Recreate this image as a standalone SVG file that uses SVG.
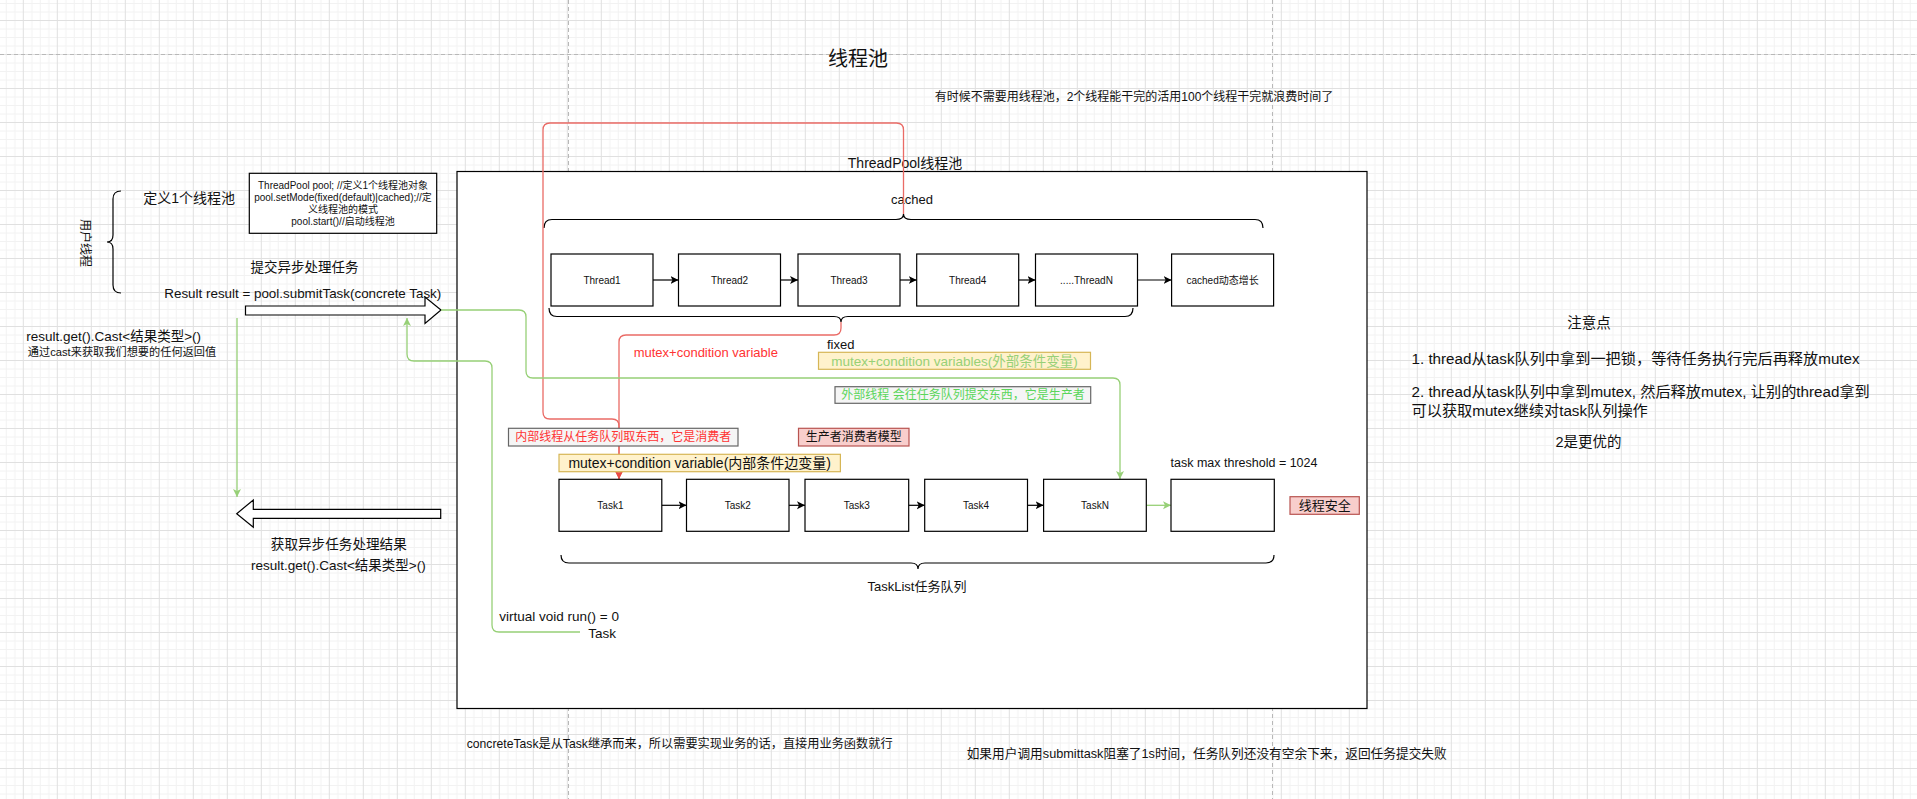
<svg xmlns="http://www.w3.org/2000/svg" width="1917" height="799" viewBox="0 0 1917 799">
<style>
text{font-family:"Liberation Sans","Noto Sans CJK SC",sans-serif;fill:#111;}
.box{fill:#fff;stroke:#000;stroke-width:1.2;}
.c{text-anchor:middle;}
.s10{font-size:10px;}
.blk{fill:none;stroke:#000;stroke-width:1.2;}
.red{fill:none;stroke:#EA6B66;stroke-width:1.3;}
.grn{fill:none;stroke:#97D077;stroke-width:1.3;}
.brace{fill:none;stroke:#000;stroke-width:1.2;}
.yel{fill:#fff2cc;stroke:#d6b656;stroke-width:1.2;}
.gry{fill:#f5f5f5;stroke:#666;stroke-width:1.2;}
.pnk{fill:#f8cecc;stroke:#b85450;stroke-width:1.2;}
.dash{stroke:#b8b8b8;stroke-width:1;stroke-dasharray:4 3;fill:none;}
</style>
<defs>
<pattern id="grid" width="34" height="34" patternUnits="userSpaceOnUse" x="22.8" y="20">
<path d="M9 0V34M17.5 0V34M26 0V34M0 9H34M0 17.5H34M0 26H34" stroke="#f2f2f2" stroke-width="1" fill="none"/>
<path d="M0.5 0V34M0 0.5H34" stroke="#e0e0e0" stroke-width="1" fill="none"/>
</pattern>
<marker id="ab" markerWidth="10" markerHeight="10" refX="8" refY="5" orient="auto" markerUnits="userSpaceOnUse"><path d="M0,1 L8,5 L0,9 L2,5 Z" fill="#000"/></marker>
<marker id="ag" markerWidth="10" markerHeight="10" refX="8" refY="5" orient="auto" markerUnits="userSpaceOnUse"><path d="M0,1 L8,5 L0,9 L2,5 Z" fill="#97D077"/></marker>
<marker id="ar" markerWidth="10" markerHeight="10" refX="8" refY="5" orient="auto" markerUnits="userSpaceOnUse"><path d="M0,1 L8,5 L0,9 L2,5 Z" fill="#EA4B46"/></marker>
</defs>
<rect width="1917" height="799" fill="#fff"/>
<rect width="1917" height="799" fill="url(#grid)"/>
<path class="dash" d="M0 54.5H1917M568.5 0V799M1272.5 0V799"/>

<g id="title"><text x="858" y="65.5" class="c" font-size="20">线程池</text></g>
<g id="subtitle"><text x="1134" y="101" class="c" font-size="12">有时候不需要用线程池，2个线程能干完的活用100个线程干完就浪费时间了</text></g>

<g id="threadpool">
<rect x="457" y="171.5" width="910" height="537" class="box"/>
<text x="905" y="168" class="c" font-size="14">ThreadPool线程池</text>
</g>

<g id="user-thread">
<path class="brace" d="M121 191 Q113 191 113 199 L113 235 Q113 242 107 242 Q113 242 113 249 L113 285 Q113 293 121 293"/>
<text x="85" y="243" class="c" font-size="12" transform="rotate(90 85 243)" dy="4">用户线程</text>
</g>
<g id="define-pool"><text x="143.3" y="203" font-size="14">定义1个线程池</text></g>
<g id="code-box">
<rect x="249.3" y="173.3" width="187.4" height="60" class="box"/>
<text x="343" y="188.5" class="c s10">ThreadPool pool; //定义1个线程池对象</text>
<text x="343" y="200.8" class="c s10">pool.setMode(fixed(default)|cached);//定</text>
<text x="343" y="213.2" class="c s10">义线程池的模式</text>
<text x="343" y="225.3" class="c s10">pool.start()//启动线程池</text>
</g>
<g id="submit-label">
<text x="304.5" y="272" class="c" font-size="13.5">提交异步处理任务</text>
<text x="164.3" y="298" font-size="13.4">Result result = pool.submitTask(concrete Task)</text>
</g>
<g id="submit-arrow"><path d="M245.5 306 L425 306 L425 297 L441 310 L425 323.5 L425 315 L245.5 315 Z" fill="#fff" stroke="#000" stroke-width="1.2"/></g>
<g id="cast-note">
<text x="113.7" y="340.7" class="c" font-size="13.5">result.get().Cast&lt;结果类型&gt;()</text>
<text x="122" y="356.3" class="c" font-size="11.2">通过cast来获取我们想要的任何返回值</text>
</g>
<g id="result-arrow"><path d="M440.7 509.3 L253.3 509.3 L253.3 500 L236.7 513.7 L253.3 527.3 L253.3 518.3 L440.7 518.3 Z" fill="#fff" stroke="#000" stroke-width="1.2"/></g>
<g id="result-label">
<text x="338.8" y="548.8" class="c" font-size="13.6">获取异步任务处理结果</text>
<text x="338.3" y="570.4" class="c" font-size="13.5">result.get().Cast&lt;结果类型&gt;()</text>
</g>

<g id="cached-label"><text x="912" y="203.5" class="c" font-size="13">cached</text></g>
<g id="cached-brace"><path class="brace" d="M544 228 Q544 219.5 552 219.5 L896 219.5 Q903.5 219.5 903.5 214 Q903.5 219.5 911 219.5 L1255 219.5 Q1263 219.5 1263 228"/></g>

<g id="thread1"><rect x="551" y="254" width="102" height="52" class="box"/><text x="602" y="283.5" class="c s10">Thread1</text></g>
<g id="thread2"><rect x="678.5" y="254" width="102" height="52" class="box"/><text x="729.5" y="283.5" class="c s10">Thread2</text></g>
<g id="thread3"><rect x="798" y="254" width="102" height="52" class="box"/><text x="849" y="283.5" class="c s10">Thread3</text></g>
<g id="thread4"><rect x="916.7" y="254" width="102" height="52" class="box"/><text x="967.7" y="283.5" class="c s10">Thread4</text></g>
<g id="threadN"><rect x="1035.5" y="254" width="102" height="52" class="box"/><text x="1086.5" y="283.5" class="c s10">.....ThreadN</text></g>
<g id="cached-grow"><rect x="1171.6" y="254" width="102" height="52" class="box"/><text x="1222.6" y="283.5" class="c s10">cached动态增长</text></g>

<g id="fixed-brace"><path class="brace" d="M549 308 Q549 316.5 557 316.5 L834 316.5 Q841 316.5 841 322 Q841 316.5 848 316.5 L1125 316.5 Q1133 316.5 1133 308"/></g>
<g id="fixed-label"><text x="827" y="348.5" font-size="13">fixed</text></g>

<g id="connectors">
<path class="blk" d="M653 280 H678.5" marker-end="url(#ab)"/>
<path class="blk" d="M780.5 280 H798" marker-end="url(#ab)"/>
<path class="blk" d="M900 280 H916.7" marker-end="url(#ab)"/>
<path class="blk" d="M1018.7 280 H1035.5" marker-end="url(#ab)"/>
<path class="blk" d="M1137.5 280 H1171.6" marker-end="url(#ab)"/>
<path class="blk" d="M661.8 505.3 H686.5" marker-end="url(#ab)"/>
<path class="blk" d="M789 505.3 H805" marker-end="url(#ab)"/>
<path class="blk" d="M908.7 505.3 H924.7" marker-end="url(#ab)"/>
<path class="blk" d="M1027.5 505.3 H1043.6" marker-end="url(#ab)"/>
<path class="grn" d="M1146.3 505.3 H1171" marker-end="url(#ag)"/>
<path class="red" d="M903.5 214 L903.5 130 Q903.5 123 896.5 123 L550 123 Q543 123 543 130 L543 412 Q543 419 550 419 L612 419 Q619 419 619 426 L619 479" marker-end="url(#ar)"/>
<path class="red" d="M841 322 L841 328 Q841 335 834 335 L626 335 Q619 335 619 342 L619 479" marker-end="url(#ar)"/>
<path class="grn" d="M441 310 L519 310 Q526 310 526 317 L526 371 Q526 378 533 378 L1113 378 Q1120 378 1120 385 L1120 479" marker-end="url(#ag)"/>
<path class="grn" d="M580 632 L499 632 Q492 632 492 625 L492 368 Q492 361 485 361 L414 361 Q407 361 407 354 L407 318" marker-end="url(#ag)"/>
<path class="grn" d="M237 318 L237 497" marker-end="url(#ag)"/>
</g>

<g id="red-mutex-label"><text x="633.7" y="357" font-size="13" style="fill:#FF3333">mutex+condition variable</text></g>
<g id="ext-cv"><rect x="818.5" y="352.3" width="272" height="17" class="yel"/><text x="954.6" y="365.5" class="c" font-size="13.5" style="fill:#97D077">mutex+condition variables(外部条件变量)</text></g>
<g id="producer-note"><rect x="835" y="386.7" width="255.7" height="16.6" class="gry"/><text x="963" y="399.2" class="c" font-size="12" style="fill:#5BD65B">外部线程 会往任务队列提交东西，它是生产者</text></g>
<g id="consumer-note"><rect x="508.5" y="428.3" width="229.5" height="17.7" class="gry"/><text x="623.2" y="441.3" class="c" font-size="12" style="fill:#FF3333">内部线程从任务队列取东西，它是消费者</text></g>
<g id="pc-model"><rect x="798.5" y="428.3" width="110.5" height="17.7" class="pnk"/><text x="853.7" y="441.3" class="c" font-size="12">生产者消费者模型</text></g>
<g id="int-cv"><rect x="559" y="454.3" width="281.4" height="17.4" class="yel"/><text x="699.7" y="468" class="c" font-size="14">mutex+condition variable(内部条件边变量)</text></g>

<g id="task1"><rect x="559" y="479.3" width="102.8" height="52" class="box"/><text x="610.4" y="509" class="c s10">Task1</text></g>
<g id="task2"><rect x="686.5" y="479.3" width="102.5" height="52" class="box"/><text x="737.7" y="509" class="c s10">Task2</text></g>
<g id="task3"><rect x="805" y="479.3" width="103.7" height="52" class="box"/><text x="856.8" y="509" class="c s10">Task3</text></g>
<g id="task4"><rect x="924.7" y="479.3" width="102.8" height="52" class="box"/><text x="976.1" y="509" class="c s10">Task4</text></g>
<g id="taskN"><rect x="1043.6" y="479.3" width="102.7" height="52" class="box"/><text x="1095" y="509" class="c s10">TaskN</text></g>
<g id="task-empty"><rect x="1171" y="479.3" width="103.3" height="52" class="box"/></g>
<g id="threshold"><text x="1170.5" y="467" font-size="12.5">task max threshold = 1024</text></g>
<g id="thread-safe"><rect x="1290" y="496.7" width="69.3" height="17.6" class="pnk"/><text x="1324.7" y="510" class="c" font-size="13">线程安全</text></g>
<g id="tasklist-brace"><path class="brace" d="M561 555 Q561 563 569 563 L911 563 Q918 563 918 569 Q918 563 925 563 L1266 563 Q1274 563 1274 555"/></g>
<g id="tasklist-label"><text x="917" y="591" class="c" font-size="13">TaskList任务队列</text></g>

<g id="task-iface">
<text x="499.3" y="620.7" font-size="13.5">virtual void run() = 0</text>
<text x="588.3" y="638" font-size="13.5">Task</text>
</g>

<g id="notes">
<text x="1589" y="327.8" class="c" font-size="14.5">注意点</text>
<text x="1411.5" y="363.5" font-size="15.2">1. thread从task队列中拿到一把锁，等待任务执行完后再释放mutex</text>
<text x="1411.5" y="397" font-size="15.2">2. thread从task队列中拿到mutex, 然后释放mutex, 让别的thread拿到</text>
<text x="1411.5" y="416.3" font-size="15.2">可以获取mutex继续对task队列操作</text>
<text x="1588.5" y="447" class="c" font-size="14.5">2是更优的</text>
</g>

<g id="bottom-notes">
<text x="466.7" y="747.6" font-size="12.2">concreteTask是从Task继承而来，所以需要实现业务的话，直接用业务函数就行</text>
<text x="966.7" y="757.8" font-size="12.7">如果用户调用submittask阻塞了1s时间，任务队列还没有空余下来，返回任务提交失败</text>
</g>
</svg>
